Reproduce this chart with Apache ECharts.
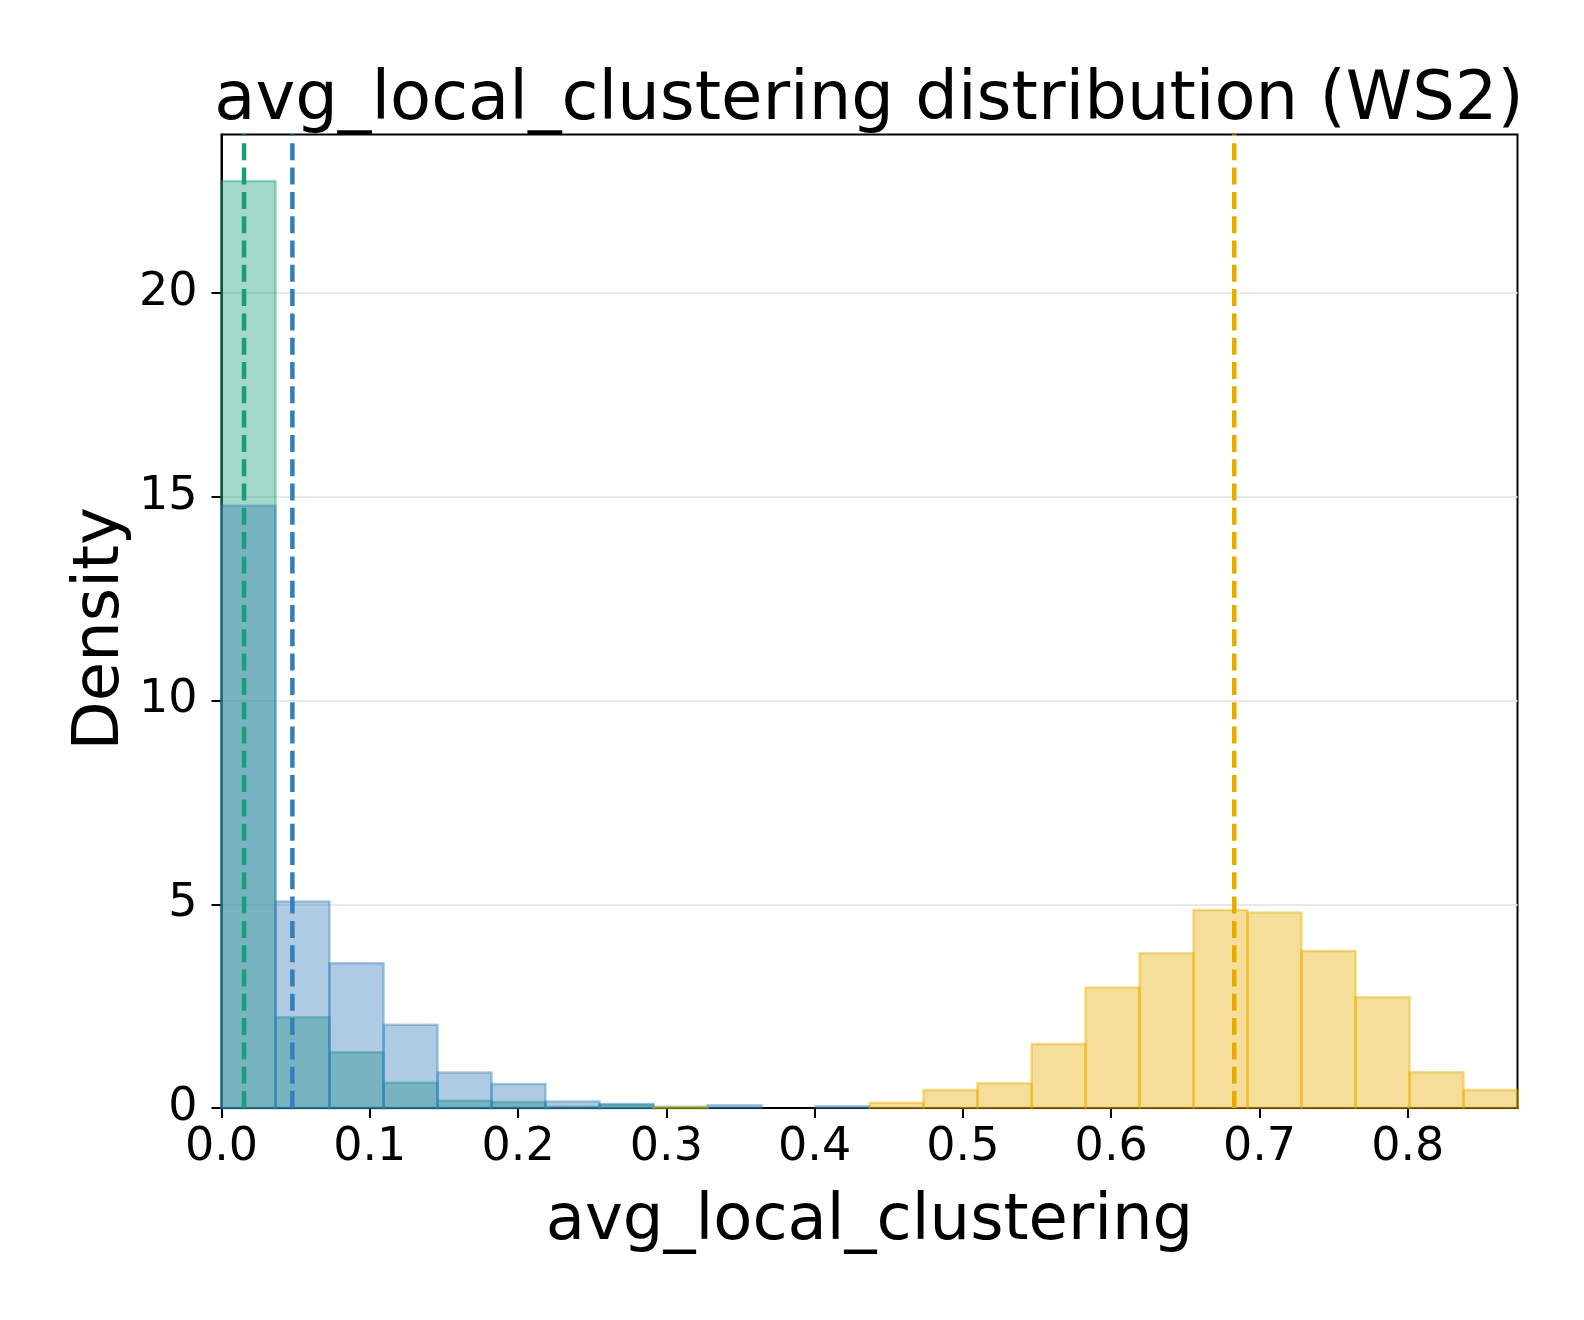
<!DOCTYPE html>
<html>
<head>
<meta charset="utf-8">
<script src="https://cdn.jsdelivr.net/npm/echarts@6/dist/echarts.min.js"></script>
<style>
  html, body { margin: 0; padding: 0; background: #fff; }
  #chart { width: 1584px; height: 1320px; }
</style>
</head>
<body>
<div id="chart"></div>
<script>
// histogram bin edges (shared by all three groups)
const binEdges = [0, 0.0364, 0.0728, 0.1093, 0.1457, 0.1821, 0.2185, 0.2549, 0.2913, 0.3278,
  0.3642, 0.4006, 0.4370, 0.4734, 0.5098, 0.5463, 0.5827, 0.6191, 0.6555, 0.6919,
  0.7283, 0.7648, 0.8012, 0.8376, 0.8740];

// densities per bin
const greenDensity = [22.75, 2.23, 1.37, 0.62, 0.18, 0.15, 0.03, 0.08, 0.03, 0, 0, 0,
  0, 0, 0, 0, 0, 0, 0, 0, 0, 0, 0, 0];
const blueDensity = [14.78, 5.07, 3.55, 2.04, 0.87, 0.59, 0.16, 0.10, 0, 0.07, 0, 0.04,
  0, 0, 0, 0, 0, 0, 0, 0, 0, 0, 0, 0];
const yellowDensity = [0, 0, 0, 0, 0, 0, 0, 0, 0.02, 0, 0, 0,
  0.13, 0.44, 0.61, 1.57, 2.96, 3.80, 4.86, 4.80, 3.85, 2.72, 0.88, 0.44];

// means (dashed lines)
const greenMean = 0.0152;
const blueMean = 0.0478;
const yellowMean = 0.683;

const xTicks = [0, 0.1, 0.2, 0.3, 0.4, 0.5, 0.6, 0.7, 0.8];
const yTicks = [0, 5, 10, 15, 20];
const X_MAX = 0.874;
const Y_MAX = 23.89;

const FONT = "'DejaVu Sans', sans-serif";
const GREEN = '#1b9e77', BLUE = '#377eb8', YELLOW = '#e6ab02';

function rgba(hex, a) {
  const n = parseInt(hex.slice(1), 16);
  return `rgba(${n >> 16},${(n >> 8) & 255},${n & 255},${a})`;
}

function histSeries(values, color) {
  const data = values.map((v, i) => [binEdges[i], binEdges[i + 1], v]).filter(d => d[2] > 0);
  return {
    type: 'custom',
    data,
    encode: { x: [0, 1], y: 2 },
    renderItem(params, api) {
      const p0 = api.coord([api.value(0), api.value(2)]);
      const p1 = api.coord([api.value(1), 0]);
      return {
        type: 'rect',
        shape: { x: p0[0], y: p0[1], width: p1[0] - p0[0], height: p1[1] - p0[1] },
        style: { fill: rgba(color, 0.4), stroke: rgba(color, 0.4), lineWidth: 2.5 }
      };
    },
    z: 2
  };
}

function meanLine(x, color) {
  return {
    type: 'line',
    data: [[x, 0], [x, Y_MAX]],
    symbol: 'none',
    lineStyle: { color, width: 4.5, type: [17, 7.3] },
    z: 5
  };
}

const chart = echarts.init(document.getElementById('chart'), null, { renderer: 'canvas' });
chart.setOption({
  animation: false,
  backgroundColor: '#fff',
  title: {
    text: 'avg_local_clustering distribution (WS2)',
    left: 864, top: 63, textAlign: 'center',
    textStyle: { fontFamily: FONT, fontSize: 67.2, fontWeight: 'normal', color: '#000' }
  },
  grid: {
    left: 221.5, top: 134.5, right: 66.5, bottom: 212,
    show: true, borderColor: '#000', borderWidth: 2,
    outerBoundsMode: 'none'
  },
  xAxis: {
    type: 'value', min: 0, max: X_MAX,
    name: 'avg_local_clustering', nameLocation: 'middle', nameGap: 82,
    nameTextStyle: { fontFamily: FONT, fontSize: 64, color: '#000' },
    axisLine: { lineStyle: { color: '#000', width: 2 } },
    axisTick: { show: true, length: 10, lineStyle: { color: '#000', width: 2 }, customValues: xTicks },
    axisLabel: { customValues: xTicks, formatter: v => v.toFixed(1), margin: 17,
      fontFamily: FONT, fontSize: 46, color: '#000' },
    splitLine: { show: false }
  },
  yAxis: {
    type: 'value', min: 0, max: Y_MAX, interval: 5,
    name: 'Density', nameLocation: 'middle', nameGap: 88, nameMoveOverlap: false,
    nameTextStyle: { fontFamily: FONT, fontSize: 64, color: '#000', padding: [0, 15, 0, 0] },
    axisLine: { show: true, lineStyle: { color: '#000', width: 2 } },
    axisTick: { show: true, length: 10, lineStyle: { color: '#000', width: 2 }, customValues: yTicks },
    axisLabel: { customValues: yTicks, margin: 24, fontFamily: FONT, fontSize: 46, color: '#000' },
    splitLine: { show: true, lineStyle: { color: '#e8e8e8', width: 2 } }
  },
  series: [
    histSeries(greenDensity, GREEN),
    histSeries(blueDensity, BLUE),
    histSeries(yellowDensity, YELLOW),
    meanLine(greenMean, GREEN),
    meanLine(blueMean, BLUE),
    meanLine(yellowMean, YELLOW)
  ]
});
</script>
</body>
</html>
